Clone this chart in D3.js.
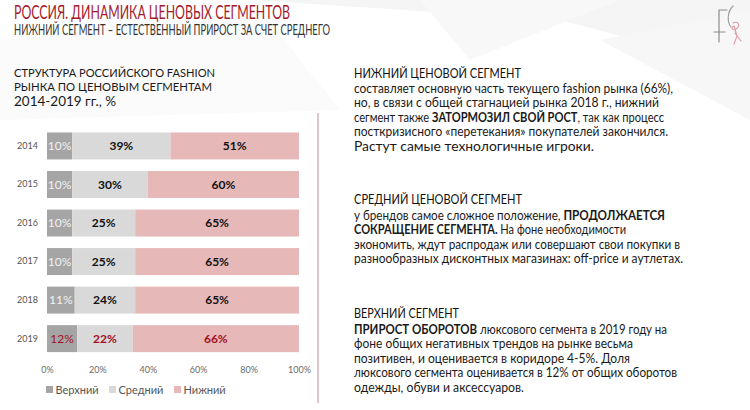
<!DOCTYPE html>
<html>
<head>
<meta charset="utf-8">
<script src="https://cdn.jsdelivr.net/npm/d3@7"></script>
<style>
  html, body { margin: 0; padding: 0; background: #fff; }
  svg { display: block; }
  text { font-family: Lato, "Open Sans", "Liberation Sans", sans-serif; }
</style>
</head>
<body>
<svg id="chart" width="750" height="410"></svg>
<script>
// ---- data ----
const years = ["2014", "2015", "2016", "2017", "2018", "2019"];
const upper = [10, 10, 10, 10, 11, 12];   // Верхний
const middle = [39, 30, 25, 25, 24, 22];  // Средний
const lower = [51, 60, 65, 65, 65, 66];   // Нижний
const seriesNames = ["Верхний", "Средний", "Нижний"];
const tickValues = [0, 20, 40, 60, 80, 100];

const titleText = "РОССИЯ. ДИНАМИКА ЦЕНОВЫХ СЕГМЕНТОВ";
const subtitleText = "НИЖНИЙ СЕГМЕНТ – ЕСТЕСТВЕННЫЙ ПРИРОСТ ЗА СЧЕТ СРЕДНЕГО";
const chartTitleLines = ["СТРУКТУРА РОССИЙСКОГО FASHION", "РЫНКА ПО ЦЕНОВЫМ СЕГМЕНТАМ", "2014-2019 гг., %"];

const sections = [
  { heading: "НИЖНИЙ ЦЕНОВОЙ СЕГМЕНТ", lines: [
    [["составляет основную часть текущего fashion рынка (66%),", 0]],
    [["но, в связи с общей стагнацией рынка 2018 г., нижний", 0]],
    [["сегмент также ", 0], ["ЗАТОРМОЗИЛ СВОЙ РОСТ", 1], [", так как процесс", 0]],
    [["посткризисного «перетекания» покупателей закончился.", 0]],
    [["Растут самые технологичные игроки.", 0]]
  ]},
  { heading: "СРЕДНИЙ ЦЕНОВОЙ СЕГМЕНТ", lines: [
    [["у брендов самое сложное положение, ", 0], ["ПРОДОЛЖАЕТСЯ", 1]],
    [["СОКРАЩЕНИЕ СЕГМЕНТА.", 1], [" На фоне необходимости", 0]],
    [["экономить, ждут распродаж или совершают свои покупки в", 0]],
    [["разнообразных дисконтных магазинах: off-price и аутлетах.", 0]]
  ]},
  { heading: "ВЕРХНИЙ СЕГМЕНТ", lines: [
    [["ПРИРОСТ ОБОРОТОВ", 1], [" люксового сегмента в 2019 году на", 0]],
    [["фоне общих негативных трендов на рынке весьма", 0]],
    [["позитивен, и оценивается в коридоре 4-5%. Доля", 0]],
    [["люксового сегмента оценивается в 12% от общих оборотов", 0]],
    [["одежды, обуви и аксессуаров.", 0]]
  ]}
];

// ---- layout ----
const svg = d3.select("#chart");
const colors = ["#a5a5a5", "#d9d9d9", "#e6b8b8"];
const labelColors = ["#f2f2f2", "#111", "#111"];
const highlightYear = "2019";
const highlightColor = "#a50f25";

// faint background facets
const bg = svg.append("g");
bg.append("path").attr("d", "M250,0 L750,0 L750,70 L560,20 Z").attr("fill", "#f5f5f5");
bg.append("path").attr("d", "M420,0 L620,0 L470,60 Z").attr("fill", "#f8f8f8");
bg.append("path").attr("d", "M600,40 L750,10 L750,120 Z").attr("fill", "#f7f7f7");
bg.append("path").attr("d", "M0,40 L260,10 L340,110 L0,120 Z").attr("fill", "#fbfbfb");

// header
svg.append("text").attr("x", 14).attr("y", 18.5)
  .attr("font-family", "'Liberation Sans Narrow', 'DejaVu Sans Condensed', sans-serif")
  .attr("font-size", 20).attr("fill", "#a51b2c")
  .attr("textLength", 276).attr("lengthAdjust", "spacingAndGlyphs")
  .text(titleText);
svg.append("text").attr("x", 14).attr("y", 35)
  .attr("font-family", "'Liberation Sans Narrow', 'DejaVu Sans Condensed', sans-serif")
  .attr("font-size", 15).attr("fill", "#333")
  .attr("textLength", 316).attr("lengthAdjust", "spacingAndGlyphs")
  .text(subtitleText);

// logo
const logo = svg.append("g").attr("fill", "none").attr("stroke-linecap", "round");
logo.append("path").attr("d", "M719,10 L719,42 M719,10 L727,10 M714,32 L725,32").attr("stroke", "#8c8c8c").attr("stroke-width", 1.2);
logo.append("path").attr("d", "M733,6 C727,12 727,22 731,27").attr("stroke", "#9a9a9a").attr("stroke-width", 1.1);
logo.append("path").attr("d", "M733,23 C738,20 741,26 736,29 C733,31 730,28 734,26 L737,36 L734,44 M735,33 L741,41").attr("stroke", "#e29aa5").attr("stroke-width", 1.1);

// chart title
const ctW = [201, 198, 102];
const ctY = [77, 91, 105.5];
const ctS = [12, 12, 13.5];
chartTitleLines.forEach((t, i) => {
  svg.append("text").attr("x", 14).attr("y", ctY[i])
    .attr("font-size", ctS[i]).attr("fill", "#1a1a1a")
    .attr("textLength", ctW[i]).attr("lengthAdjust", "spacingAndGlyphs")
    .text(t);
});

// divider
svg.append("line").attr("x1", 318).attr("x2", 318).attr("y1", 113).attr("y2", 403)
  .attr("stroke", "#c4a0a8").attr("stroke-width", 1.2);

// scales
const x = d3.scaleLinear().domain([0, 100]).range([47, 299]);
const y = d3.scaleBand().domain(years).range([126.7, 357.9]).paddingInner(0.3).paddingOuter(0.15);

const rows = years.map((yr, i) => ({ year: yr, "Верхний": upper[i], "Средний": middle[i], "Нижний": lower[i] }));
const stack = d3.stack().keys(seriesNames)(rows);

const layers = svg.append("g").selectAll("g").data(stack).join("g")
  .attr("fill", (d, i) => colors[i]);
layers.selectAll("rect").data(d => d).join("rect")
  .attr("x", d => x(d[0]))
  .attr("y", d => y(d.data.year))
  .attr("width", d => x(d[1]) - x(d[0]))
  .attr("height", y.bandwidth());

// bar labels
const lab = svg.append("g").selectAll("g").data(stack).join("g");
lab.each(function(s, si) {
  d3.select(this).selectAll("text").data(s).join("text")
    .attr("x", d => (x(d[0]) + x(d[1])) / 2)
    .attr("y", d => y(d.data.year) + y.bandwidth() / 2)
    .attr("dy", "0.35em")
    .attr("text-anchor", "middle")
    .attr("font-size", 12)
    .attr("font-weight", si === 0 ? 400 : 700)
    .attr("fill", d => d.data.year === highlightYear ? highlightColor : labelColors[si])
    .text(d => (d[1] - d[0]) + "%");
});

// axes
const xAxis = svg.append("g").attr("transform", "translate(0,364)")
  .call(d3.axisBottom(x).tickValues(tickValues).tickFormat(d => d + "%").tickSize(0).tickPadding(3));
xAxis.select(".domain").remove();
xAxis.selectAll("text").attr("font-family", "Lato, sans-serif").attr("font-size", 9).attr("fill", "#6b6b6b");

const yAxis = svg.append("g").attr("transform", "translate(41,0)")
  .call(d3.axisLeft(y).tickSize(0).tickPadding(3));
yAxis.select(".domain").remove();
yAxis.selectAll("text").attr("font-family", "Lato, sans-serif").attr("font-size", 9).attr("fill", "#555");

// legend
const legX = [46, 109, 174];
const leg = svg.append("g").selectAll("g").data(seriesNames).join("g")
  .attr("transform", (d, i) => `translate(${legX[i]},390)`);
leg.append("rect").attr("x", 0).attr("y", -4).attr("width", 7).attr("height", 7)
  .attr("fill", (d, i) => colors[i]);
leg.append("text").attr("x", 9.5).attr("y", 0).attr("dy", "0.35em")
  .attr("font-size", 11).attr("fill", "#555").text(d => d);

// right text
const secY = [
  { h: 78, b: [92.5, 107, 121.5, 136, 150.5] },
  { h: 204, b: [219.5, 234, 248.5, 263] },
  { h: 318, b: [333.5, 348, 362.5, 377, 391.5] }
];
const headW = [167, 168, 105];
const lineW = [
  [319, 305, 310, 314, 240],
  [311, 272, 326, 329],
  [313, 279, 276, 323, 170]
];
sections.forEach((sec, si) => {
  svg.append("text").attr("x", 354).attr("y", secY[si].h)
    .attr("font-size", 13.5).attr("fill", "#111")
    .attr("textLength", headW[si]).attr("lengthAdjust", "spacingAndGlyphs")
    .text(sec.heading);
  sec.lines.forEach((parts, li) => {
    const t = svg.append("text").attr("x", 354).attr("y", secY[si].b[li])
      .attr("font-size", 13).attr("fill", "#1a1a1a")
      .attr("textLength", lineW[si][li]).attr("lengthAdjust", "spacingAndGlyphs");
    parts.forEach(p => {
      t.append("tspan").attr("font-weight", p[1] ? 700 : 400).text(p[0]);
    });
  });
});
</script>
</body>
</html>
